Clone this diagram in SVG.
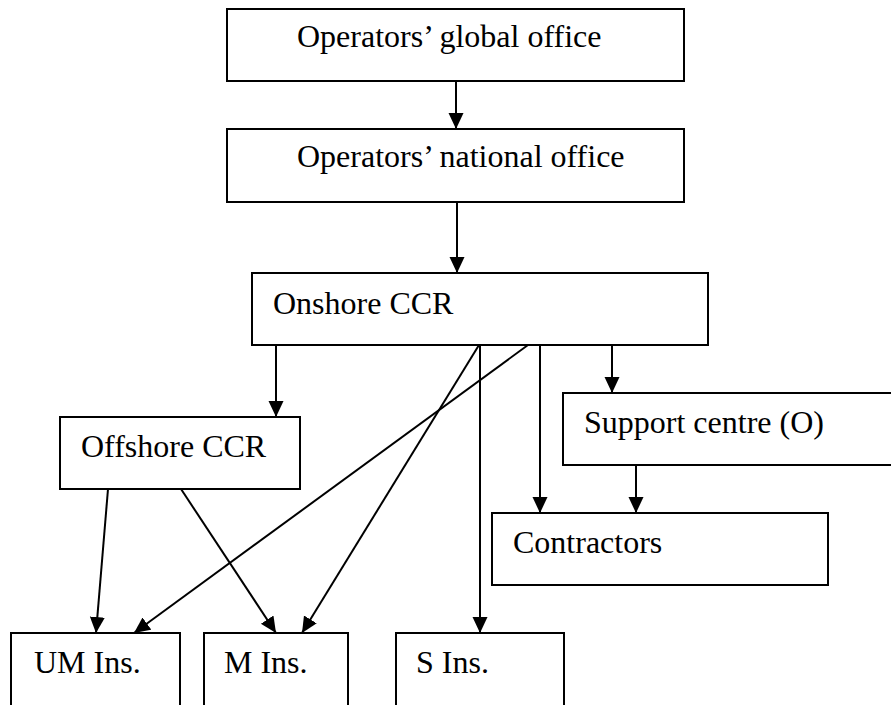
<svg xmlns="http://www.w3.org/2000/svg" width="891" height="705" viewBox="0 0 891 705">
  <style>
    .box { fill: #ffffff; stroke: #000000; stroke-width: 2; }
    .edge { stroke: #000000; stroke-width: 2; fill: none; marker-end: url(#arrow); }
  </style>
  <defs>
    <marker id="arrow" markerUnits="userSpaceOnUse" markerWidth="17" markerHeight="16" refX="16" refY="7.5" orient="auto">
      <path d="M0,0 L16,7.5 L0,15 z" fill="#000000"/>
    </marker>
  </defs>
  <rect width="891" height="705" fill="#ffffff"/>

  <g font-family="'Liberation Serif', 'Times New Roman', 'DejaVu Serif', serif" font-size="32" fill="#000000">
    <g id="global-office">
      <rect class="box" x="227" y="9" width="457" height="72"/>
      <text x="297" y="47">Operators’ global office</text>
    </g>
    <g id="national-office">
      <rect class="box" x="227" y="129" width="457" height="73"/>
      <text x="297" y="167">Operators’ national office</text>
    </g>
    <g id="onshore-ccr">
      <rect class="box" x="252" y="273" width="456" height="72"/>
      <text x="273" y="314">Onshore CCR</text>
    </g>
    <g id="offshore-ccr">
      <rect class="box" x="60" y="417" width="240" height="72"/>
      <text x="81" y="457">Offshore CCR</text>
    </g>
    <g id="support-centre">
      <rect class="box" x="563" y="393" width="340" height="72"/>
      <text x="584" y="433">Support centre (O)</text>
    </g>
    <g id="contractors">
      <rect class="box" x="492" y="513" width="336" height="72"/>
      <text x="513" y="553">Contractors</text>
    </g>
    <g id="um-ins">
      <rect class="box" x="11" y="633" width="169" height="80"/>
      <text x="34" y="673">UM Ins.</text>
    </g>
    <g id="m-ins">
      <rect class="box" x="204" y="633" width="144" height="80"/>
      <text x="224" y="673">M Ins.</text>
    </g>
    <g id="s-ins">
      <rect class="box" x="396" y="633" width="168" height="80"/>
      <text x="416" y="673">S Ins.</text>
    </g>
  </g>

  <g id="connectors">
    <line class="edge" x1="456" y1="81" x2="456" y2="129"/>
    <line class="edge" x1="457" y1="202" x2="457" y2="273"/>
    <line class="edge" x1="276" y1="345" x2="276" y2="417"/>
    <line class="edge" x1="612" y1="345" x2="612" y2="393"/>
    <line class="edge" x1="540" y1="345" x2="540" y2="513"/>
    <line class="edge" x1="636" y1="465" x2="636" y2="513"/>
    <line class="edge" x1="480" y1="345" x2="480" y2="633"/>
    <line class="edge" x1="479" y1="345" x2="302" y2="633"/>
    <line class="edge" x1="528" y1="345" x2="134" y2="633"/>
    <line class="edge" x1="108" y1="489" x2="96" y2="633"/>
    <line class="edge" x1="181" y1="489" x2="276" y2="633"/>
  </g>
</svg>
